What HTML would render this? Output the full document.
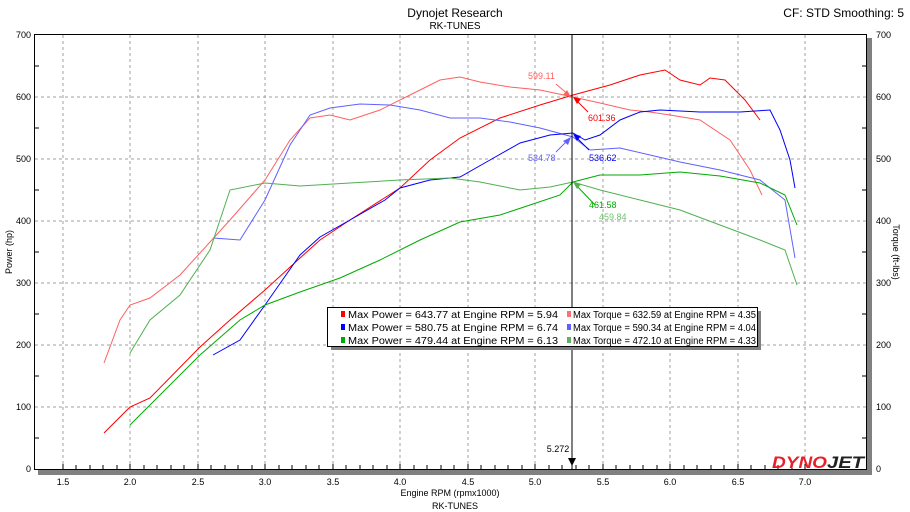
<!DOCTYPE html>
<html><head><meta charset="utf-8"><style>
body{margin:0;background:#fff;}
svg{display:block;font-family:"Liberation Sans",sans-serif;}
</style></head><body>
<svg width="910" height="512" viewBox="0 0 910 512" xmlns="http://www.w3.org/2000/svg">
<rect width="910" height="512" fill="#fff"/>
<text x="455" y="17" font-size="12" text-anchor="middle">Dynojet Research</text>
<text x="455" y="29" font-size="10" text-anchor="middle">RK-TUNES</text>
<text x="904" y="17" font-size="12" text-anchor="end">CF: STD Smoothing: 5</text>
<rect x="38" y="470" width="834" height="5" fill="#808080"/>
<rect x="867" y="38" width="5" height="437" fill="#808080"/>
<g stroke="#a0a0a0" stroke-dasharray="3,3" stroke-width="1">
<line x1="63" y1="35" x2="63" y2="469"/><line x1="130" y1="35" x2="130" y2="469"/><line x1="198" y1="35" x2="198" y2="469"/><line x1="265" y1="35" x2="265" y2="469"/><line x1="333" y1="35" x2="333" y2="469"/><line x1="400" y1="35" x2="400" y2="469"/><line x1="468" y1="35" x2="468" y2="469"/><line x1="535" y1="35" x2="535" y2="469"/><line x1="603" y1="35" x2="603" y2="469"/><line x1="670" y1="35" x2="670" y2="469"/><line x1="738" y1="35" x2="738" y2="469"/><line x1="805" y1="35" x2="805" y2="469"/>
<line x1="35" y1="97" x2="867" y2="97"/><line x1="35" y1="159" x2="867" y2="159"/><line x1="35" y1="221" x2="867" y2="221"/><line x1="35" y1="283" x2="867" y2="283"/><line x1="35" y1="345" x2="867" y2="345"/><line x1="35" y1="407" x2="867" y2="407"/>
</g>
<rect x="34.5" y="34.5" width="832" height="435" fill="none" stroke="#000" stroke-width="1"/>
<g font-size="9" text-anchor="end">
<text x="31" y="38">700</text><text x="31" y="100">600</text><text x="31" y="162">500</text><text x="31" y="224">400</text><text x="31" y="286">300</text><text x="31" y="348">200</text><text x="31" y="410">100</text><text x="31" y="472">0</text>
</g>
<g font-size="9">
<text x="876" y="38">700</text><text x="876" y="100">600</text><text x="876" y="162">500</text><text x="876" y="224">400</text><text x="876" y="286">300</text><text x="876" y="348">200</text><text x="876" y="410">100</text><text x="876" y="472">0</text>
</g>
<g font-size="9" text-anchor="middle">
<text x="63" y="485">1.5</text><text x="130" y="485">2.0</text><text x="198" y="485">2.5</text><text x="265" y="485">3.0</text><text x="333" y="485">3.5</text><text x="400" y="485">4.0</text><text x="468" y="485">4.5</text><text x="535" y="485">5.0</text><text x="603" y="485">5.5</text><text x="670" y="485">6.0</text><text x="738" y="485">6.5</text><text x="805" y="485">7.0</text>
<text x="450" y="496">Engine RPM (rpmx1000)</text>
<text x="455" y="509">RK-TUNES</text>
</g>
<text font-size="9" transform="translate(12,252) rotate(-90)" text-anchor="middle">Power (hp)</text>
<text font-size="9" transform="translate(893,252) rotate(90)" text-anchor="middle">Torque (ft-lbs)</text>
<g stroke="#000">
<path d="M35 66h4M35 128h4M35 190h4M35 252h4M35 314h4M35 376h4M35 438h4M866 66h-4M866 128h-4M866 190h-4M866 252h-4M866 314h-4M866 376h-4M866 438h-4"/>
<path d="M63 469v-5M76 469v-4M90 469v-4M103 469v-4M117 469v-4M130 469v-5M144 469v-4M157 469v-4M171 469v-4M184 469v-4M198 469v-5M211 469v-4M225 469v-4M238 469v-4M252 469v-4M265 469v-5M279 469v-4M292 469v-4M306 469v-4M319 469v-4M333 469v-5M346 469v-4M360 469v-4M373 469v-4M387 469v-4M400 469v-5M414 469v-4M427 469v-4M441 469v-4M454 469v-4M468 469v-5M481 469v-4M495 469v-4M508 469v-4M522 469v-4M535 469v-5M549 469v-4M562 469v-4M576 469v-4M589 469v-4M603 469v-5M616 469v-4M630 469v-4M643 469v-4M657 469v-4M670 469v-5M684 469v-4M697 469v-4M711 469v-4M724 469v-4M738 469v-5M751 469v-4M765 469v-4M778 469v-4M792 469v-4M805 469v-5"/>
</g>
<g fill="none" stroke-width="1">
<polyline stroke="#ff6060" points="104,363 120,320 130,305 150,298 180,275 230,220 265,180 290,140 310,118 330,115 350,120 380,110 410,95 440,80 460,77 480,82 510,87 540,90 573,97 600,103 630,110 650,112 670,115 700,120 730,140 750,170 762,195"/>
<polyline stroke="#ff0000" points="104,433 130,407 150,398 200,347 230,320 265,290 300,258 320,240 350,220 400,188 430,160 460,138 500,118 540,105 573,95 610,85 640,75 665,70 680,80 700,85 710,78 725,80 745,100 760,120"/>
<polyline stroke="#6060ff" points="213,238 240,240 265,200 290,145 310,115 330,108 360,104 390,105 420,110 450,118 480,118 510,122 540,128 573,137 590,150 620,148 650,155 680,162 720,170 760,180 785,200 795,258"/>
<polyline stroke="#0000ff" points="213,355 240,340 265,305 300,255 320,237 350,220 385,200 400,188 430,180 460,177 490,160 520,143 550,135 573,133 585,140 600,135 620,120 640,112 660,110 700,112 740,112 770,110 780,130 790,160 795,188"/>
<polyline stroke="#50b050" points="130,353 150,320 180,295 210,250 230,190 265,183 300,186 350,183 400,180 450,178 480,182 520,190 550,187 573,182 600,190 640,200 680,210 720,225 760,240 785,250 797,285"/>
<polyline stroke="#00aa00" points="130,425 160,395 200,355 240,320 265,305 300,292 340,278 380,260 420,240 460,222 500,215 530,205 560,195 573,182 600,175 640,175 680,172 720,176 760,183 785,195 797,225"/>
</g>
<line x1="572" y1="35" x2="572" y2="469" stroke="#000"/>
<text x="558" y="452" font-size="9" text-anchor="middle">5.272</text>
<path d="M568 458l4 8 4-8z" fill="#000"/>
<g font-size="9">
<line x1="556" y1="84" x2="570" y2="96" stroke="#ff6060"/><path d="M571 97l-8-2 4-5z" fill="#ff6060"/>
<text x="528" y="79" fill="#ff6060">599.11</text>
<line x1="574" y1="98" x2="588" y2="112" stroke="#ff0000"/><path d="M573 97l8 2-4 5z" fill="#ff0000"/>
<text x="588" y="121" fill="#ff0000">601.36</text>
<line x1="556" y1="152" x2="570" y2="138" stroke="#6060ff"/><path d="M571 137l-3 8-5-4z" fill="#6060ff"/>
<text x="528" y="161" fill="#6060ff">534.78</text>
<line x1="575" y1="136" x2="589" y2="150" stroke="#0000ff"/><path d="M573 134l8 2-4 5z" fill="#0000ff"/>
<text x="589" y="161" fill="#0000ff">536.62</text>
<line x1="575" y1="184" x2="595" y2="205" stroke="#00aa00"/><path d="M573 182l8 2-4 5z" fill="#50b050"/>
<text x="589" y="208" fill="#00aa00">461.58</text>
<text x="599" y="220" fill="#70c070">459.84</text>
</g>
<rect x="331" y="311" width="430" height="39" fill="#808080"/>
<rect x="327.5" y="307.5" width="430" height="39" fill="#fff" stroke="#000"/>
<g font-size="10">
<rect x="341" y="311" width="4" height="6" fill="#ff0000"/><text x="348" y="318" textLength="210" lengthAdjust="spacingAndGlyphs">Max Power = 643.77 at Engine RPM = 5.94</text>
<rect x="341" y="324" width="4" height="6" fill="#0000ff"/><text x="348" y="331" textLength="210" lengthAdjust="spacingAndGlyphs">Max Power = 580.75 at Engine RPM = 6.74</text>
<rect x="341" y="337" width="4" height="6" fill="#00aa00"/><text x="348" y="344" textLength="210" lengthAdjust="spacingAndGlyphs">Max Power = 479.44 at Engine RPM = 6.13</text>
<rect x="567" y="311" width="4" height="6" fill="#ff7070"/><text x="573" y="318" textLength="183" lengthAdjust="spacingAndGlyphs">Max Torque = 632.59 at Engine RPM = 4.35</text>
<rect x="567" y="324" width="4" height="6" fill="#6060ff"/><text x="573" y="331" textLength="183" lengthAdjust="spacingAndGlyphs">Max Torque = 590.34 at Engine RPM = 4.04</text>
<rect x="567" y="337" width="4" height="6" fill="#60b060"/><text x="573" y="344" textLength="183" lengthAdjust="spacingAndGlyphs">Max Torque = 472.10 at Engine RPM = 4.33</text>
</g>
<text x="772" y="468" font-size="17" font-weight="bold" font-style="italic" fill="#e8202a" textLength="55" lengthAdjust="spacingAndGlyphs">DYNO</text>
<text x="827" y="468" font-size="17" font-weight="bold" font-style="italic" fill="#222" textLength="37" lengthAdjust="spacingAndGlyphs">JET</text>
</svg>
</body></html>
